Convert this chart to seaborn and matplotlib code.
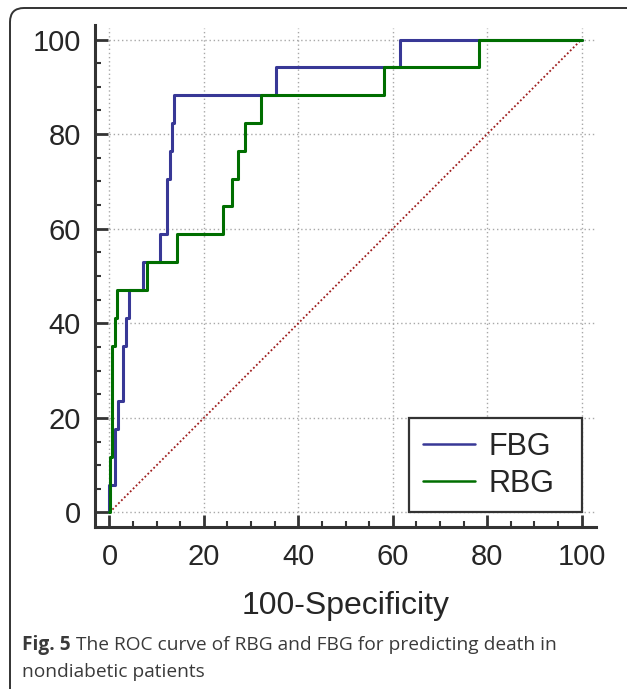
import matplotlib
matplotlib.use("Agg")
import pandas as pd
import matplotlib.pyplot as plt
import seaborn as sns
from matplotlib.patches import FancyBboxPatch, Rectangle
from matplotlib.transforms import IdentityTransform
from matplotlib.ticker import MultipleLocator

# ROC operating points (100-specificity, sensitivity)
fbg_fpr = [0, 0, 1.15, 1.85, 2.9, 3.5, 4.1, 7.0, 10.7, 12.1, 12.8, 13.2, 13.7, 35.2, 61.5, 100]
fbg_tpr = [0, 5.88, 17.65, 23.53, 35.29, 41.18, 47.06, 52.94, 58.82, 70.59, 76.47, 82.35, 88.24, 94.12, 100, 100]

rbg_fpr = [0, 0.2, 0.5, 1.15, 1.5, 8.0, 14.3, 24.0, 26.0, 27.3, 28.7, 32.2, 58.1, 78.3, 100]
rbg_tpr = [0, 11.76, 35.29, 41.18, 47.06, 52.94, 58.82, 64.71, 70.59, 76.47, 82.35, 88.24, 94.12, 100, 100]

ticks = [0, 20, 40, 60, 80, 100]
caption_bold = "Fig. 5"
caption_1 = "The ROC curve of RBG and FBG for predicting death in"
caption_2 = "nondiabetic patients"

fbg = pd.DataFrame({"fpr": fbg_fpr, "tpr": fbg_tpr})
rbg = pd.DataFrame({"fpr": rbg_fpr, "tpr": rbg_tpr})

sns.set_style("white")
plt.rcParams["font.family"] = ["Liberation Sans", "DejaVu Sans"]

fig = plt.figure(figsize=(6.27, 6.89), dpi=100)
ax = fig.add_axes([95 / 627, 1 - 526.5 / 689, (596 - 95) / 627, (526.5 - 25) / 689])

# grid, only inside the data range
ax.vlines(ticks, 0, 102.5, colors="#a8a8a8", linestyles=(0, (1, 2)), linewidth=1, zorder=0)
ax.hlines(ticks, 0, 102.7, colors="#a8a8a8", linestyles=(0, (1, 2)), linewidth=1, zorder=0)

ax.plot([0, 100], [0, 100], color="#9e1e1e", linestyle=(0, (1, 1.3)), linewidth=1.3, zorder=1)

sns.lineplot(data=fbg, x="fpr", y="tpr", sort=False, estimator=None, drawstyle="steps-post",
             color="#383896", linewidth=2.2, label="FBG", ax=ax, zorder=3)
sns.lineplot(data=rbg, x="fpr", y="tpr", sort=False, estimator=None, drawstyle="steps-post",
             color="#006e00", linewidth=2.2, label="RBG", ax=ax, zorder=4)

ax.set_xlim(-3.07, 103.07)
ax.set_ylim(-2.96, 103.07)
ax.set_xticks(ticks)
ax.set_yticks(ticks)
ax.xaxis.set_minor_locator(MultipleLocator(5))
ax.yaxis.set_minor_locator(MultipleLocator(5))
ax.tick_params(which="major", direction="in", length=9, width=2, color="#333333",
               labelsize=21, pad=10)
ax.tick_params(axis="x", which="major", pad=12)
ax.tick_params(which="minor", direction="in", length=4.5, width=1.5, color="#333333")
ax.tick_params(axis="x", which="both", bottom=True)
ax.tick_params(axis="y", which="both", left=True)

for side in ["top", "right"]:
    ax.spines[side].set_visible(False)
for side in ["left", "bottom"]:
    ax.spines[side].set_linewidth(2.2)
    ax.spines[side].set_color("#333333")

ax.set_xlabel("100-Specificity", fontsize=23, labelpad=14)
ax.set_ylabel("")

# legend content shifted left a bit, frame drawn up to x=100 like the original
leg = ax.legend(loc="lower right", bbox_to_anchor=(97.2, 0), bbox_transform=ax.transData,
                borderaxespad=0, fontsize=22, frameon=False,
                handlelength=1.7, handletextpad=0.45, labelspacing=0.22, borderpad=0.45)
for line in leg.get_lines():
    line.set_linewidth(1.8)
leg.set_zorder(6)

# caption
cap_font = dict(fontsize=13.8, family=["Open Sans", "DejaVu Sans"], color="#3a3a3a")
t0 = fig.text(22 / 627, 1 - 650 / 689, caption_bold, weight="bold", **cap_font)
fig.canvas.draw()
renderer = fig.canvas.get_renderer()
bb = t0.get_window_extent(renderer)
fig.text((bb.x1 + 5) / 627, 1 - 650 / 689, caption_1, **cap_font)
fig.text(22 / 627, 1 - 677 / 689, caption_2, **cap_font)

lb = leg.get_window_extent(renderer)
x_right = ax.transData.transform((100, 0))[0]
y_bottom = ax.transData.transform((0, 0))[1]
box = Rectangle((lb.x0, y_bottom), x_right - lb.x0, lb.y1 - y_bottom,
                transform=IdentityTransform(), facecolor="white",
                edgecolor="#333333", linewidth=1.6, zorder=5, clip_on=False)
ax.add_artist(box)

# rounded outer frame (only its top-left part falls inside the picture)
frame = FancyBboxPatch((10, -100), 800, 781, boxstyle="round,pad=0,rounding_size=14",
                       transform=IdentityTransform(), fill=False, edgecolor="#333333",
                       linewidth=1.4)
fig.add_artist(frame)

fig.savefig("out.png", dpi=100)
